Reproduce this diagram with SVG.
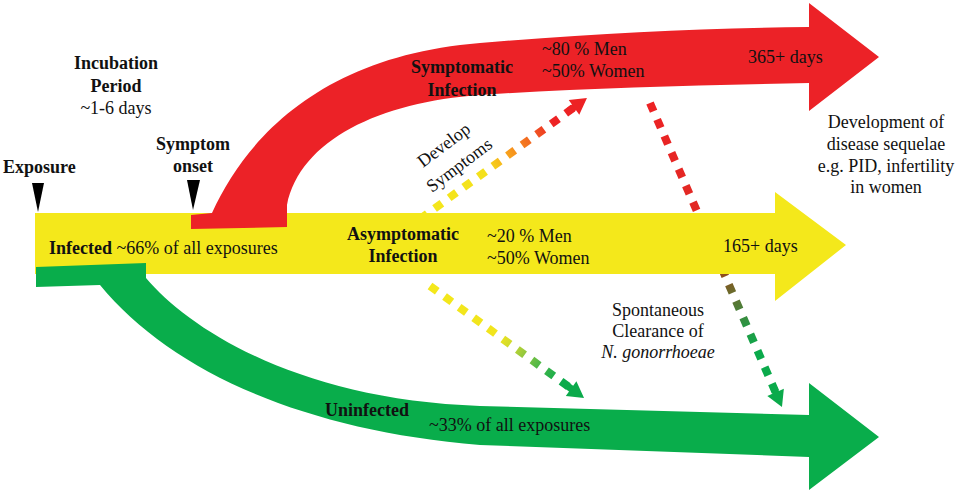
<svg xmlns="http://www.w3.org/2000/svg" width="957" height="494" viewBox="0 0 957 494" font-family="'Liberation Serif', 'Times New Roman', Times, 'DejaVu Serif', serif">
<style>
text{font-family:'Liberation Serif','Times New Roman',Times,'DejaVu Serif',serif;font-size:18px;fill:#111}
.b{font-weight:bold}
.m{text-anchor:middle}
.dot{fill:none;stroke-width:8;stroke-dasharray:9 9}
</style>
<defs>
<linearGradient id="g1" gradientUnits="userSpaceOnUse" x1="420" y1="219" x2="587" y2="98">
<stop offset="0" stop-color="#F4E81B"/><stop offset="0.4" stop-color="#F4E01C"/><stop offset="0.52" stop-color="#F8A51C"/><stop offset="0.65" stop-color="#F26B21"/><stop offset="0.8" stop-color="#ED2224"/><stop offset="1" stop-color="#ED2224"/>
</linearGradient>
<linearGradient id="g2" gradientUnits="userSpaceOnUse" x1="430" y1="286" x2="584" y2="398">
<stop offset="0" stop-color="#F4E81B"/><stop offset="0.45" stop-color="#F1E41D"/><stop offset="0.53" stop-color="#CBD930"/><stop offset="0.62" stop-color="#8DC63F"/><stop offset="0.72" stop-color="#45B649"/><stop offset="0.85" stop-color="#0BAA4B"/><stop offset="1" stop-color="#0BAA4B"/>
</linearGradient>
<linearGradient id="g3" gradientUnits="userSpaceOnUse" x1="650" y1="103" x2="782" y2="407">
<stop offset="0" stop-color="#ED2224"/><stop offset="0.38" stop-color="#E02A24"/><stop offset="0.57" stop-color="#8C4F1F"/><stop offset="0.62" stop-color="#6C6A2B"/><stop offset="0.68" stop-color="#4A803A"/><stop offset="0.74" stop-color="#249A45"/><stop offset="0.82" stop-color="#0BAA4B"/><stop offset="1" stop-color="#0BAA4B"/>
</linearGradient>
<marker id="mr" viewBox="-6 -10 23 20" refX="0" refY="0" markerWidth="23" markerHeight="20" markerUnits="userSpaceOnUse" orient="auto">
<path d="M16,0 L0,-9 L0,-3.5 L-6,-3.5 L-6,3.5 L0,3.5 L0,9 Z" fill="#ED2224"/>
</marker>
<marker id="mg" viewBox="-6 -10 23 20" refX="0" refY="0" markerWidth="23" markerHeight="20" markerUnits="userSpaceOnUse" orient="auto">
<path d="M16,0 L0,-9 L0,-3.5 L-6,-3.5 L-6,3.5 L0,3.5 L0,9 Z" fill="#0BAA4B"/>
</marker>
</defs>
<rect width="957" height="494" fill="#fff"/>

<g id="connectors">
<line class="dot" x1="420" y1="219" x2="574" y2="107.4" stroke="url(#g1)" marker-end="url(#mr)"/>
<line class="dot" x1="430" y1="286" x2="571.1" y2="388.6" stroke="url(#g2)" marker-end="url(#mg)"/>
<line class="dot" x1="650" y1="103" x2="775.6" y2="392.3" stroke="url(#g3)" marker-end="url(#mg)"/>
<text transform="translate(423,168) rotate(-37)">Develop</text>
<text transform="translate(432,193) rotate(-37)">Symptoms</text>
<text class="m" x="658" y="316">Spontaneous</text>
<text class="m" x="658" y="337">Clearance of</text>
<text class="m" x="658" y="358" font-style="italic">N. gonorrhoeae</text>
</g>

<g id="asymptomatic">
<path d="M35,213 L775,213 L775,192 L846,245 L775,301 L775,274 L35,274 Z" fill="#F4E81B"/>
<text x="49" y="254"><tspan class="b">Infected</tspan> ~66% of all exposures</text>
<text class="m b" x="403" y="240">Asymptomatic</text>
<text class="m b" x="403" y="262">Infection</text>
<text x="487" y="242">~20 % Men</text>
<text x="487" y="264">~50% Women</text>
<text x="723" y="252">165+ days</text>
</g>

<g id="symptomatic">
<path d="M212,213 C250,130 330,55 480,43 C600,33 700,28 809,27 L809,3 L879,57 L809,111 L809,83 C700,85 580,88 480,95 C380,102 300,140 287,205 L287,227 L191,229 L191,215 Z" fill="#EC2227"/>
<text class="m b" x="462" y="73">Symptomatic</text>
<text class="m b" x="462" y="96">Infection</text>
<text x="542" y="55">~80 % Men</text>
<text x="542" y="77">~50% Women</text>
<text x="748" y="63">365+ days</text>
</g>

<g id="uninfected">
<path d="M36,267 L146,263 L146,278 C190,330 300,400 480,406 L809,415 L809,383 L879,437 L809,490 L809,457 L480,445 C300,430 170,370 100,285 L36,287 Z" fill="#09AD4B"/>
<text class="b" x="325" y="416">Uninfected</text>
<text x="429" y="431">~33% of all exposures</text>
</g>

<g id="incubation">
<text class="m b" x="116" y="69">Incubation</text>
<text class="m b" x="116" y="92">Period</text>
<text class="m" x="116" y="114">~1-6 days</text>
</g>

<g id="exposure">
<text class="b" x="3" y="173">Exposure</text>
<polygon points="32,183 44,183 38,212" fill="#000"/>
</g>

<g id="symptom-onset">
<text class="m b" x="193" y="150">Symptom</text>
<text class="m b" x="193" y="172">onset</text>
<polygon points="187,180 200,180 193,210" fill="#000"/>
</g>

<g id="sequelae">
<text class="m" x="886" y="128">Development of</text>
<text class="m" x="886" y="150">disease sequelae</text>
<text class="m" x="886" y="172">e.g. PID, infertility</text>
<text class="m" x="886" y="193">in women</text>
</g>
</svg>
